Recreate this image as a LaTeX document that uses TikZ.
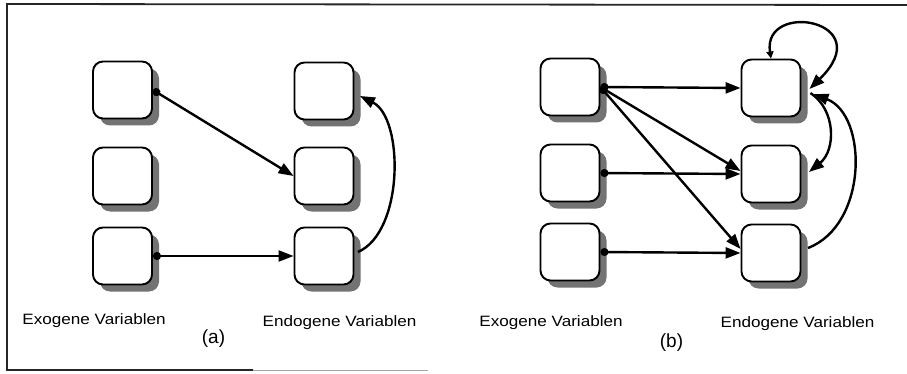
\documentclass[tikz,border=0pt]{standalone}
\usepackage{fontspec}
\setmainfont{Liberation Sans}
\usetikzlibrary{arrows.meta,shadows}
\tikzset{
  varbox/.style={rectangle, rounded corners=10pt, draw=black, line width=1.9pt,
    fill=white, minimum width=59pt, minimum height=57pt, inner sep=0pt,
    drop shadow={shadow xshift=7pt, shadow yshift=-7pt, fill=black!55, opacity=1}},
  conn/.style={line width=2.4pt, -{Triangle[length=15pt,width=11pt]}},
  dotconn/.style={line width=2.4pt, {Circle[length=8pt]}-{Triangle[length=15pt,width=11pt]}},
  lbl/.style={inner sep=0pt, anchor=base, font=\fontsize{15}{17}\selectfont},
  tag/.style={inner sep=0pt, anchor=base, font=\fontsize{19}{21}\selectfont},
  frameline/.style={line width=1.8pt, draw=black!85}
}
\begin{document}
\begin{tikzpicture}[x=1pt,y=-1pt]
\useasboundingbox (0,0) rectangle (907,374);
\fill[white] (0,0) rectangle (907,374);
% frame
\draw[frameline] (907,5) -- (7,4) -- (7,370) -- (253,370);
\draw[line width=0.8pt, draw=black!35] (253,370) -- (428,370);

% panel (a)
\node[varbox] (a1) at (122.5,90) {};
\node[varbox] (a2) at (122.5,176) {};
\node[varbox] (a3) at (122.5,256) {};
\node[varbox] (ae1) at (324,91) {};
\node[varbox] (ae2) at (324,176) {};
\node[varbox] (ae3) at (324,256) {};

\draw[dotconn] (a1.east) -- (ae2.west);
\draw[dotconn] (a3.east) -- (ae3.west);
\draw[conn] ([xshift=3.5pt,yshift=4pt]ae3.east) .. controls (404,232) and (404,118) .. ([xshift=5.5pt,yshift=-5pt]ae1.east);

\node[lbl] (ta1) at (94,324) {\scalebox{1.14}[1]{Exogene Variablen}};
\node[tag] (ta) at (213.5,343) {(a)};
\node[lbl] (ta2) at (339.5,326) {\scalebox{1.14}[1]{Endogene Variablen}};

% panel (b)
\node[varbox] (b1) at (570,87) {};
\node[varbox] (b2) at (570,173) {};
\node[varbox] (b3) at (570,252) {};
\node[varbox] (be1) at (771,88) {};
\node[varbox] (be2) at (771,174) {};
\node[varbox] (be3) at (771,253) {};

\draw[dotconn] (b1.east) -- (be1.west);
\draw[dotconn] (b1.east) -- ([yshift=3pt]be2.west);
\draw[dotconn] (b1.east) -- ([yshift=4pt]be3.west);
\draw[dotconn] (b2.east) -- (be2.west);
\draw[dotconn] (b3.east) -- (be3.west);

% self loop
\draw[line width=2.4pt, {Triangle[length=7pt,width=7pt]}-{Triangle[length=15pt,width=11pt]}]
  (be1.north) .. controls (762,0) and (880,20) .. ([xshift=8pt,yshift=-1pt]be1.east);
% be1 -> be2
\draw[conn] ([xshift=9pt,yshift=-5pt]be1.east) .. controls (836,110) and (836,150) .. ([xshift=7.5pt,yshift=2pt]be2.east);
% be3 -> be1
\draw[conn] ([xshift=6.5pt,yshift=5pt]be3.east) .. controls (868,225) and (868,115) .. ([xshift=12pt,yshift=-6pt]be1.east);

\node[lbl] (tb1) at (551,326) {\scalebox{1.14}[1]{Exogene Variablen}};
\node[tag] (tb) at (671.5,347) {(b)};
\node[lbl] (tb2) at (797.5,327) {\scalebox{1.14}[1]{Endogene Variablen}};
\end{tikzpicture}
\end{document}
